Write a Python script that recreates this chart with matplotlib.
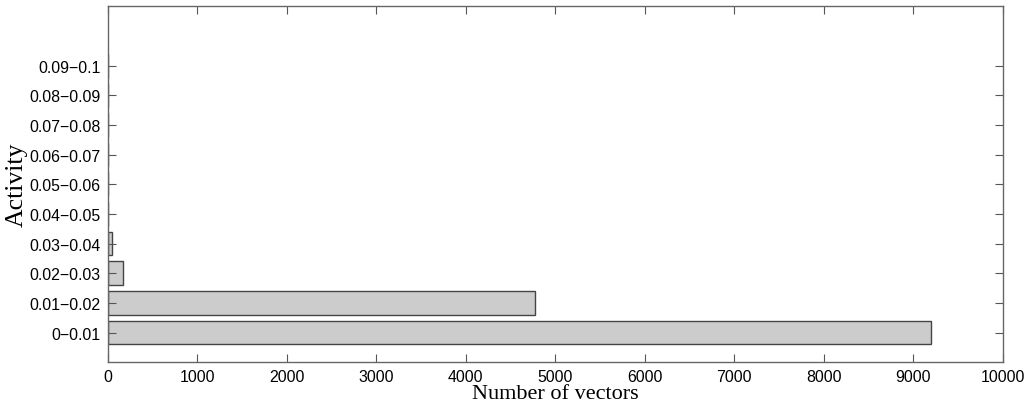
import matplotlib
matplotlib.use('Agg')
import matplotlib.pyplot as plt

# Данные гистограммы активности
activity_bins = ['0\u22120.01', '0.01\u22120.02', '0.02\u22120.03', '0.03\u22120.04',
                 '0.04\u22120.05', '0.05\u22120.06', '0.06\u22120.07', '0.07\u22120.08',
                 '0.08\u22120.09', '0.09\u22120.1']
num_vectors = [9200, 4770, 170, 45, 0, 0, 0, 0, 0, 0]
x_ticks = [0, 1000, 2000, 3000, 4000, 5000, 6000, 7000, 8000, 9000, 10000]

fig = plt.figure(figsize=(10.30, 4.06), dpi=100)
ax = fig.add_axes([0.1046, 0.1052, 0.8689, 0.8768])

positions = list(range(1, len(activity_bins) + 1))
ax.barh(positions, num_vectors, height=0.8, color='#cccccc',
        edgecolor='#444444', linewidth=1.0)

ax.set_xlim(0, 10000)
ax.set_ylim(0, 12)
ax.set_xticks(x_ticks)
ax.set_xticklabels([str(t) for t in x_ticks])
ax.set_yticks(positions)
ax.set_yticklabels(activity_bins)

# MATLAB-стиль: тики внутрь, рамка со всех сторон
for s in ax.spines.values():
    s.set_color('#666666')
    s.set_linewidth(1.0)
ax.tick_params(direction='in', length=6, width=0.8, color='#555555',
               top=True, right=True, labelsize=11.4, pad=5)
for lbl in ax.get_xticklabels() + ax.get_yticklabels():
    lbl.set_family('Liberation Sans')

ax.set_xlabel('Number of vectors', family='Liberation Serif', fontsize=16, labelpad=0)
ax.set_ylabel('Activity', family='Liberation Serif', fontsize=18.5, labelpad=1)

fig.savefig('out.png', dpi=100)
